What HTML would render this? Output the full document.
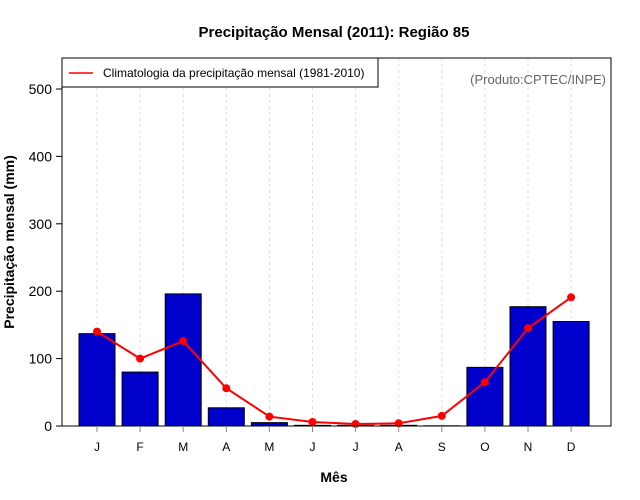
<!DOCTYPE html>
<html><head><meta charset="utf-8"><style>
body{margin:0;background:#fff;}
svg{display:block;font-family:"Liberation Sans",sans-serif;}
</style></head><body>
<svg id="chart" width="640" height="500" viewBox="0 0 640 500"></svg>
<script>
const months = ['J','F','M','A','M','J','J','A','S','O','N','D'];
const precip2011 = [137, 80, 196, 27, 5, 1, 1, 1, 0.3, 87, 177, 155];
const climatology = [140, 100, 126, 56, 14, 6, 3, 4, 15, 65, 145, 191];
const yTicks = [0, 100, 200, 300, 400, 500];

const NS = 'http://www.w3.org/2000/svg';
const svg = document.getElementById('chart');
const L = 62, R = 611, T = 58, B = 426;
const y0px = 426, pxPerUnit = 0.674;
function yScale(v){ return y0px - v * pxPerUnit; }
function xScale(i){ return 97 + i * 43.1; }
const barW = 36;
function mk(tag, attrs, parent){
  const e = document.createElementNS(NS, tag);
  for (const k in attrs) e.setAttribute(k, attrs[k]);
  (parent || svg).appendChild(e);
  return e;
}
function txt(s, attrs){ const t = mk('text', attrs); t.textContent = s; return t; }

// title
let t = txt('Precipitação Mensal (2011): Região 85', {x:334, y:37, 'text-anchor':'middle', 'font-size':15, 'font-weight':'bold'});



// vertical grid
months.forEach((m, i) => {
  const g = mk('line', {x1:xScale(i), x2:xScale(i), y1:T, y2:B, stroke:'#ddd', 'stroke-dasharray':'3,3'});
  
  
});

// bars
precip2011.forEach((v, i) => {
  const b = mk('rect', {x:xScale(i) - barW/2, y:yScale(v), width:barW, height:y0px - yScale(v), fill:'#0000cd', stroke:'#000', 'stroke-width':1});
  
  
});

// climatology line
const pts = climatology.map((v, i) => xScale(i) + ',' + yScale(v)).join(' ');
const pl = mk('polyline', {points:pts, fill:'none', stroke:'#f00', 'stroke-width':2});


climatology.forEach((v, i) => {
  const c = mk('circle', {cx:xScale(i), cy:yScale(v), r:4, fill:'#f00'});
  
  
});

// plot frame
const fr = mk('rect', {x:L, y:T, width:R-L, height:B-T, fill:'none', stroke:'#000', 'stroke-width':1});



// y axis
yTicks.forEach(v => {
  const tk = mk('line', {x1:L-6, x2:L, y1:yScale(v), y2:yScale(v), stroke:'#000'});
  
  
  const lb = txt(String(v), {x:L-10, y:yScale(v)+5, 'text-anchor':'end', 'font-size':14});
  
  
});
// x axis
months.forEach((m, i) => {
  const tk = mk('line', {x1:xScale(i), x2:xScale(i), y1:B, y2:B+6, stroke:'#888'});
  
  
  const lb = txt(m, {x:xScale(i), y:451, 'text-anchor':'middle', 'font-size':12});
  
  
});
t = txt('Mês', {x:334, y:482, 'text-anchor':'middle', 'font-size':14, 'font-weight':'bold'});


t = txt('Precipitação mensal (mm)', {x:14, y:242, 'text-anchor':'middle', 'font-size':14, 'font-weight':'bold', transform:'rotate(-90 14 242)'});



// legend
const lg = mk('rect', {x:62, y:58, width:316, height:29, fill:'#fff', stroke:'#000'});


const ll = mk('line', {x1:69, x2:93, y1:73, y2:73, stroke:'#f00', 'stroke-width':1.5});


t = txt('Climatologia da precipitação mensal (1981-2010)', {x:103, y:77, 'font-size':12});


t = txt('(Produto:CPTEC/INPE)', {x:606, y:84, 'text-anchor':'end', 'font-size':13, fill:'#666'});


</script>
</body></html>
